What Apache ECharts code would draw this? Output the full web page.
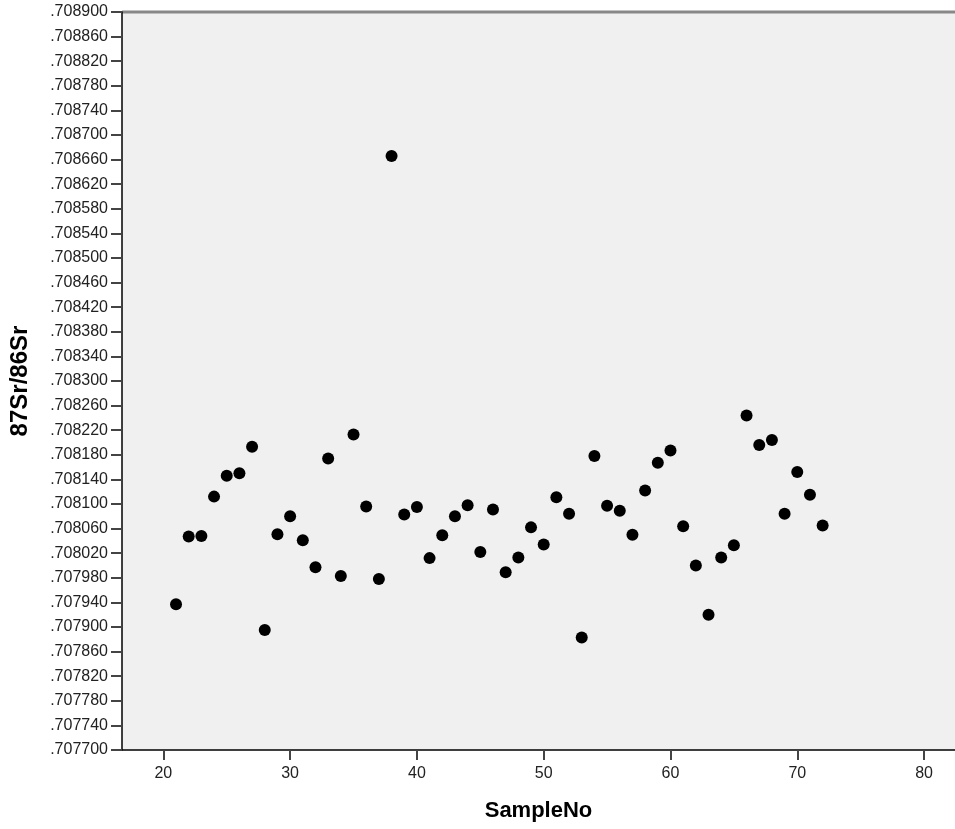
<!DOCTYPE html>
<html>
<head>
<meta charset="utf-8">
<script src="https://cdn.jsdelivr.net/npm/echarts@6/dist/echarts.min.js"></script>
<style>html,body{margin:0;padding:0;background:#fff;}#c{width:955px;height:829px;}</style>
</head>
<body>
<div id="c"></div>
<script>
const sampleNo = [21,22,23,24,25,26,27,28,29,30,31,32,33,34,35,36,37,38,39,40,41,42,43,44,45,46,47,48,49,50,51,52,53,54,55,56,57,58,59,60,61,62,63,64,65,66,67,68,69,70,71,72];
const srRatio = [
  0.707937,0.708047,0.708048,0.708112,0.708146,0.708150,0.708193,0.707895,0.708051,0.708080,
  0.708041,0.707997,0.708174,0.707983,0.708213,0.708096,0.707978,0.708666,0.708083,0.708095,
  0.708012,0.708049,0.708080,0.708098,0.708022,0.708091,0.707989,0.708013,0.708062,0.708034,
  0.708111,0.708084,0.707883,0.708178,0.708097,0.708089,0.708050,0.708122,0.708167,0.708187,
  0.708064,0.708000,0.707920,0.708013,0.708033,0.708244,0.708196,0.708204,0.708084,0.708152,
  0.708115,0.708065
];
const xTicks = [20,30,40,50,60,70,80];
const yTicks = [0.707700,0.707740,0.707780,0.707820,0.707860,0.707900,0.707940,0.707980,0.708020,0.708060,
  0.708100,0.708140,0.708180,0.708220,0.708260,0.708300,0.708340,0.708380,0.708420,0.708460,
  0.708500,0.708540,0.708580,0.708620,0.708660,0.708700,0.708740,0.708780,0.708820,0.708860,0.708900];

const chart = echarts.init(document.getElementById('c'), null, {renderer:'canvas'});
const font = 'Liberation Sans, Arial, sans-serif';
chart.setOption({
  animation: false,
  backgroundColor: '#ffffff',
  grid: {left:122, top:12, right:0, bottom:79, show:true, backgroundColor:'#f0f0f0', borderWidth:0},
  xAxis: {
    type:'value', min:16.74, max:82.44,
    name:'SampleNo', nameLocation:'middle', nameGap:50,
    nameTextStyle:{fontFamily:font, fontWeight:'bold', fontSize:22, color:'#000'},
    axisLine:{show:true, onZero:false, lineStyle:{color:'#000', width:1.5}},
    axisTick:{show:true, length:10, customValues:xTicks, lineStyle:{color:'#444', width:2}},
    axisLabel:{customValues:xTicks, fontFamily:font, fontSize:16, color:'#222', margin:16},
    splitLine:{show:false}
  },
  yAxis: {
    type:'value', min:0.7077, max:0.7089,
    name:'87Sr/86Sr', nameLocation:'middle', nameGap:90, nameRotate:90,
    nameTextStyle:{fontFamily:font, fontWeight:'bold', fontSize:24, color:'#000'},
    axisLine:{show:true, onZero:false, lineStyle:{color:'#000', width:1.5}},
    axisTick:{show:true, length:11, customValues:yTicks, lineStyle:{color:'#444', width:2}},
    axisLabel:{customValues:yTicks, fontFamily:font, fontSize:16, color:'#222', margin:14,
      formatter: v => Number(v).toFixed(6).replace(/^0/, '')},
    splitLine:{show:false}
  },
  graphic: [{type:'line', shape:{x1:122, y1:12, x2:955, y2:12}, style:{stroke:'#888', lineWidth:3}}],
  series: [{
    type:'scatter', symbol:'circle', symbolSize:12,
    itemStyle:{color:'#000', opacity:1},
    data: sampleNo.map((s,i) => [s, srRatio[i]])
  }]
});
</script>
</body>
</html>
